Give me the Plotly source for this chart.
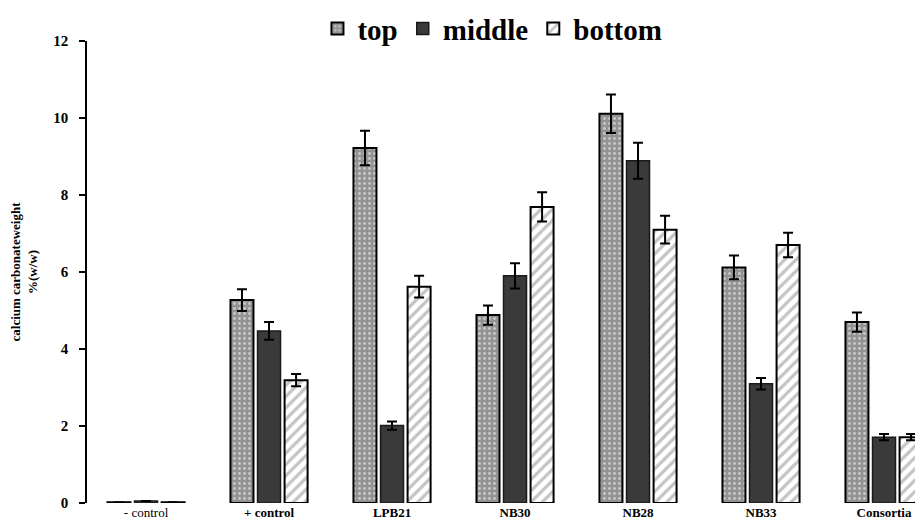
import plotly.graph_objects as go

categories = ["- control", "+ control", "LPB21", "NB30", "NB28", "NB33", "Consortia"]
tick_labels = ["- control", "<b>+ control</b>", "<b>LPB21</b>", "<b>NB30</b>", "<b>NB28</b>", "<b>NB33</b>", "<b>Consortia</b>"]

top_vals = [0.02, 5.27, 9.22, 4.88, 10.11, 6.12, 4.70]
top_err = [0.0, 0.28, 0.45, 0.25, 0.50, 0.31, 0.25]
middle_vals = [0.05, 4.47, 2.01, 5.90, 8.89, 3.10, 1.71]
middle_err = [0.0, 0.23, 0.11, 0.33, 0.47, 0.15, 0.08]
bottom_vals = [0.02, 3.19, 5.62, 7.69, 7.10, 6.70, 1.71]
bottom_err = [0.0, 0.16, 0.28, 0.38, 0.36, 0.32, 0.08]

x = list(range(len(categories)))
SERIF = "Liberation Serif"

err_style = dict(type="data", visible=True, color="black", thickness=2, width=5)

fig = go.Figure()
fig.add_trace(go.Bar(
    name="top", x=x, y=top_vals,
    error_y=dict(array=top_err, **err_style),
    marker=dict(color="#a3a3a3",
                pattern=dict(shape=".", fgcolor="white", bgcolor="#939393", size=5, solidity=0.25),
                line=dict(color="black", width=2)),
))
fig.add_trace(go.Bar(
    name="middle", x=x, y=middle_vals,
    error_y=dict(array=middle_err, **err_style),
    marker=dict(color="#3a3a3a", line=dict(color="#1a1a1a", width=1.5)),
))
fig.add_trace(go.Bar(
    name="bottom", x=x, y=bottom_vals,
    error_y=dict(array=bottom_err, **err_style),
    marker=dict(color="white",
                pattern=dict(shape="/", fgcolor="#8a8a8a", bgcolor="white", size=8, solidity=0.4),
                line=dict(color="black", width=2)),
))

fig.update_layout(
    width=923, height=520,
    margin=dict(l=79, r=8, t=33, b=25, autoexpand=False),
    plot_bgcolor="white", paper_bgcolor="white",
    barmode="group", bargap=0.34, bargroupgap=0.15,
    font=dict(family=SERIF, color="black"),
    showlegend=True,
    legend=dict(orientation="h", x=0.485, xanchor="center", y=1.082, yanchor="top",
                font=dict(family=SERIF, size=29, color="black", weight="bold"),
                itemwidth=30, bgcolor="rgba(0,0,0,0)", traceorder="normal"),
    xaxis=dict(range=[-0.48, 6.317], tickvals=x, ticktext=tick_labels,
               showline=False, showgrid=False, zeroline=False, ticks="",
               tickfont=dict(family=SERIF, size=13, color="black"), ticklabelstandoff=0,
               automargin=False),
    yaxis=dict(range=[0, 12], dtick=2, showline=True, linecolor="black", linewidth=1.5,
               ticks="outside", ticklen=6, tickwidth=1.5, tickcolor="black",
               showgrid=False, zeroline=False, automargin=False, ticklabelstandoff=8,
               tickfont=dict(family=SERIF, size=15, color="black", weight="bold"),
               title=dict(text="calcium carbonateweight<br>%(w/w)",
                          font=dict(family=SERIF, size=13, color="black", weight="bold"),
                          standoff=14)),
)

fig.write_html("out.html")
